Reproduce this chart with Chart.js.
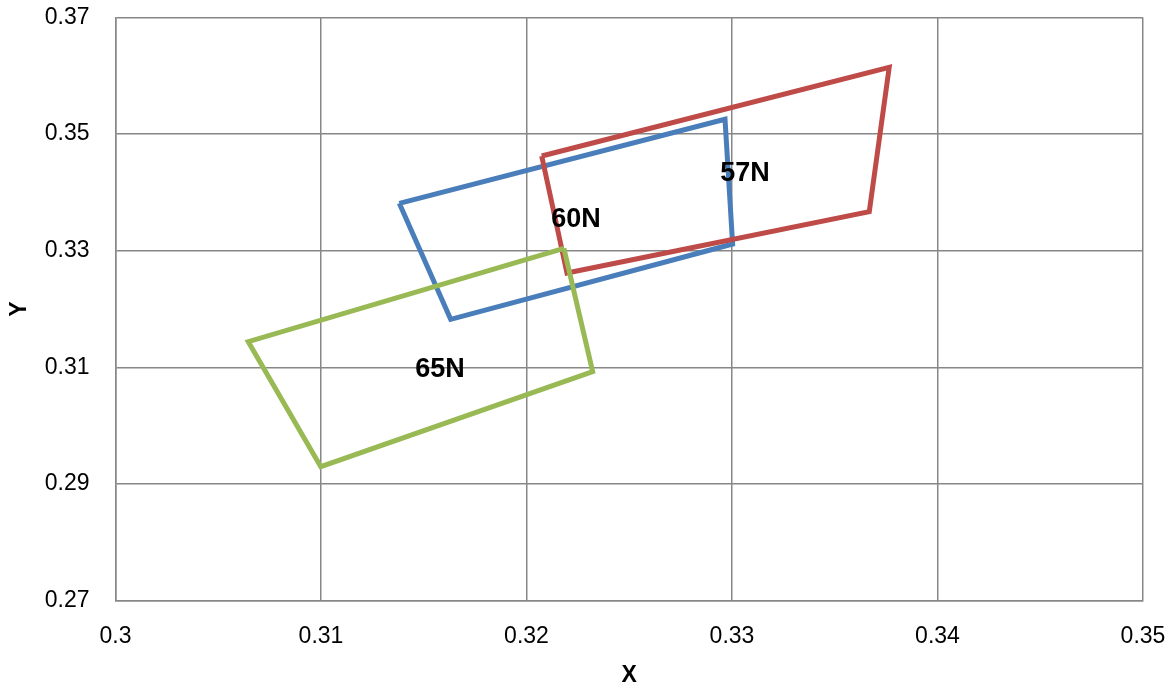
<!DOCTYPE html>
<html>
<head>
<meta charset="utf-8">
<script src="https://cdn.jsdelivr.net/npm/chart.js@4"></script>
<style>
html,body{margin:0;padding:0;background:#fff;}
#wrap{width:1176px;height:689px;position:relative;}
</style>
</head>
<body>
<div id="wrap"><canvas id="c" width="1176" height="689"></canvas></div>
<script>
// Polygon vertices (closed: first point repeated)
const blueX  = [0.31381, 0.32966, 0.33003, 0.31631, 0.31381];
const blueY  = [0.33813, 0.35254, 0.33115, 0.31823, 0.33813];
const redX   = [0.32074, 0.33765, 0.33668, 0.32197, 0.32074];
const redY   = [0.34624, 0.36146, 0.33669, 0.32618, 0.34624];
const greenX = [0.32182, 0.30646, 0.30999, 0.32322, 0.32182];
const greenY = [0.33041, 0.31439, 0.29295, 0.30925, 0.33041];

// Text labels
const labelText = ["57N", "60N", "65N"];
const labelX = [0.33063, 0.32241, 0.31579];
const labelY = [0.34315, 0.33527, 0.30954];

// Axis ranges / ticks
const xMin = 0.3, xMax = 0.35, xStep = 0.01;
const yMin = 0.27, yMax = 0.37, yStep = 0.02;

function pts(xs, ys){ return xs.map((x,i)=>({x:x, y:ys[i]})); }

const gridColor = '#878787';
const fontFam = '"Liberation Sans", Arial, sans-serif';

const labelPlugin = {
  id: 'polyLabels',
  afterDatasetsDraw(chart){
    const ctx = chart.ctx;
    const xs = chart.scales.x, ys = chart.scales.y;
    ctx.save();
    ctx.font = 'bold 27px ' + fontFam;
    ctx.fillStyle = '#000';
    ctx.textAlign = 'center';
    ctx.textBaseline = 'middle';
    labelText.forEach((t,i)=>{
      ctx.fillText(t, xs.getPixelForValue(labelX[i]), ys.getPixelForValue(labelY[i]));
    });
    ctx.restore();
  }
};

function zeroPad(s){ s.paddingTop = 0; s.paddingBottom = 0; s.paddingLeft = 0; s.paddingRight = 0; }

new Chart(document.getElementById('c'), {
  type: 'scatter',
  data: {
    datasets: [
      {label:'blue', data: pts(blueX, blueY), borderColor:'#4A7EBB', backgroundColor:'#4A7EBB', showLine:true, pointRadius:0, borderWidth:5, order:2, tension:0},
      {label:'red', data: pts(redX, redY), borderColor:'#BE4B48', backgroundColor:'#BE4B48', showLine:true, pointRadius:0, borderWidth:5, order:1, tension:0},
      {label:'green', data: pts(greenX, greenY), borderColor:'#98B954', backgroundColor:'#98B954', showLine:true, pointRadius:0, borderWidth:5, order:0, tension:0}
    ]
  },
  options: {
    responsive: false,
    animation: false,
    devicePixelRatio: 1,
    layout: {padding: {left: 0, right: 33, top: 17.5, bottom: 0}},
    plugins: {legend: {display:false}, tooltip: {enabled:false}},
    elements: {line: {borderJoinStyle:'miter', borderCapStyle:'butt'}},
    scales: {
      x: {
        type: 'linear', min: xMin, max: xMax,
        ticks: {stepSize: xStep, color:'#000', font:{family:fontFam, size:23}, padding: 22.5, maxRotation:0,
          callback: v => String(+v.toFixed(3))},
        grid: {color: gridColor, lineWidth: 1.5, drawTicks:false},
        border: {color: gridColor, width: 1.5},
        title: {display:true, text:'X', color:'#000', font:{family:fontFam, size:23, weight:'bold'}, padding:{top:0,bottom:0}},
        afterFit: s => { s.height = 88.5; zeroPad(s); }
      },
      y: {
        type: 'linear', min: yMin, max: yMax,
        ticks: {stepSize: yStep, color:'#000', font:{family:fontFam, size:23}, padding: 26,
          callback: v => String(+v.toFixed(3))},
        grid: {color: gridColor, lineWidth: 1.5, drawTicks:false},
        border: {color: gridColor, width: 1.5},
        title: {display:true, text:'Y', color:'#000', font:{family:fontFam, size:23, weight:'bold'}, padding:{top:6,bottom:0}},
        afterFit: s => { s.width = 115.5; zeroPad(s); }
      }
    }
  },
  plugins: [labelPlugin]
});
</script>
</body>
</html>
